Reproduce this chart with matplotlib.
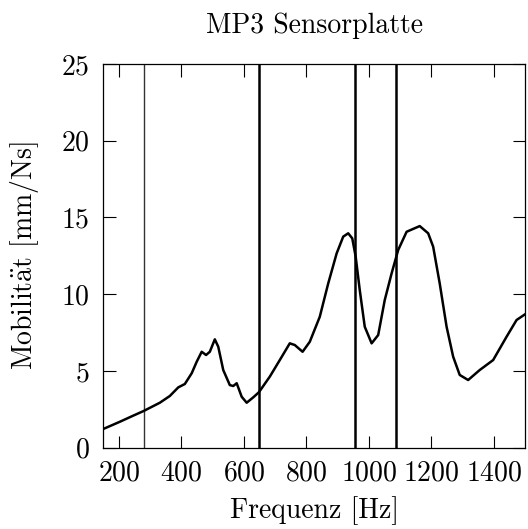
import matplotlib
matplotlib.use("Agg")
import matplotlib.pyplot as plt

plt.rcParams['font.family'] = ['cmr10', 'DejaVu Serif']
plt.rcParams['mathtext.fontset'] = 'cm'
plt.rcParams['axes.formatter.use_mathtext'] = True

# Messkurve
freq = [150, 203, 246, 279, 331, 363, 390, 411, 433, 449, 465, 479, 491, 507, 518, 534,
        555, 566, 577, 593, 609, 630, 648, 683, 715, 747, 763, 788, 811, 843, 870, 897,
        918, 934, 947, 958, 971, 987, 1009, 1030, 1051, 1073, 1094, 1121, 1163, 1190,
        1206, 1227, 1249, 1270, 1291, 1318, 1355, 1398, 1441, 1473, 1500]
mob = [1.22, 1.69, 2.09, 2.39, 2.93, 3.37, 3.93, 4.15, 4.85, 5.6, 6.25, 6.04, 6.25, 7.06,
       6.58, 5.06, 4.08, 4.02, 4.2, 3.32, 2.93, 3.28, 3.61, 4.63, 5.71, 6.8, 6.69, 6.25,
       6.9, 8.53, 10.7, 12.66, 13.75, 13.97, 13.64, 12.44, 10.27, 7.88, 6.8, 7.34, 9.62,
       11.36, 12.88, 14.07, 14.44, 13.97, 13.1, 10.7, 7.88, 5.93, 4.74, 4.41, 5.06, 5.71,
       7.23, 8.32, 8.69]

# Markierte Frequenzen
marks = [279, 647, 957, 1088]
mark_width = [1.0, 1.8, 1.8, 1.8]
mark_color = ['#333333', 'black', 'black', 'black']

fig = plt.figure(figsize=(5.28, 5.29), dpi=100)
ax = fig.add_axes([103.3 / 528, 1 - 447.7 / 529, (525 - 103.3) / 528, (447.7 - 64) / 529])

for m, w, c in zip(marks, mark_width, mark_color):
    ax.axvline(m, color=c, lw=w)
ax.plot(freq, mob, color='black', lw=1.8, solid_joinstyle='round')

ax.set_xlim(150, 1500)
ax.set_ylim(0, 25)
ax.set_xticks([200, 400, 600, 800, 1000, 1200, 1400])
ax.set_yticks([0, 5, 10, 15, 20, 25])
ax.tick_params(direction='in', length=9, width=0.8, top=True, right=True,
               labelsize=20)
ax.tick_params(axis='x', pad=9)
ax.tick_params(axis='y', pad=10)
for s in ax.spines.values():
    s.set_linewidth(0.9)

ax.set_xlabel('Frequenz [Hz]', fontsize=20, labelpad=7)
ax.set_ylabel(r'Mobilit$\ddot{\mathrm{a}}$t [mm/Ns]', fontsize=20, labelpad=14)
ax.set_title('MP3 Sensorplatte', fontsize=20, pad=22)

fig.savefig('out.png', dpi=100)
